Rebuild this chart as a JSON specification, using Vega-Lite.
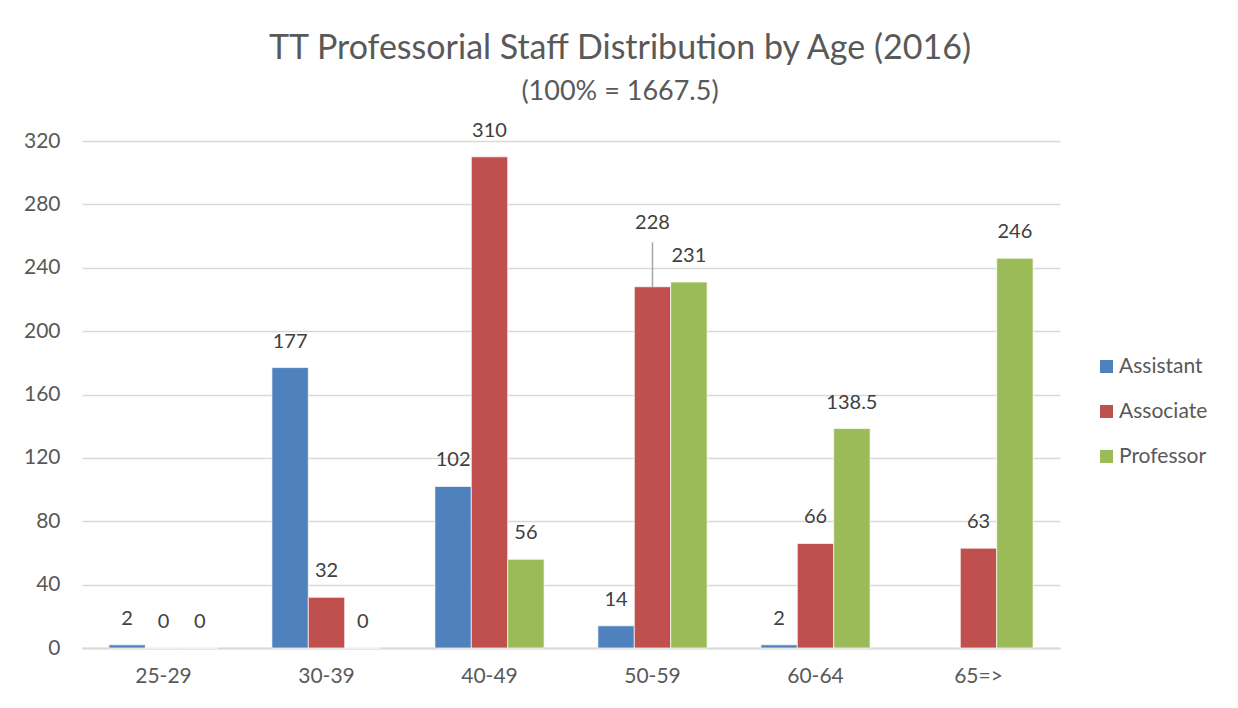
{
  "$schema": "https://vega.github.io/schema/vega-lite/v6.json",
  "width": 978,
  "height": 507,
  "autosize": {"type": "none"},
  "padding": {"left": 82, "top": 141, "right": 178, "bottom": 60},
  "background": "white",
  "config": {"view": {"stroke": null}},
  "title": {
    "text": "TT Professorial Staff Distribution by Age (2016)",
    "subtitle": "(100% = 1667.5)",
    "anchor": "middle",
    "frame": "group",
    "dx": 49,
    "offset": 16,
    "font": "Lato",
    "fontSize": 34,
    "fontWeight": "normal",
    "color": "#595959",
    "subtitleFont": "Lato",
    "subtitleFontSize": 27,
    "subtitleColor": "#595959",
    "subtitlePadding": 13
  },
  "data": {
    "values": [
      {"age": "25-29", "rank": "Assistant", "value": 2},
      {"age": "25-29", "rank": "Associate", "value": 0},
      {"age": "25-29", "rank": "Professor", "value": 0},
      {"age": "30-39", "rank": "Assistant", "value": 177},
      {"age": "30-39", "rank": "Associate", "value": 32},
      {"age": "30-39", "rank": "Professor", "value": 0},
      {"age": "40-49", "rank": "Assistant", "value": 102},
      {"age": "40-49", "rank": "Associate", "value": 310},
      {"age": "40-49", "rank": "Professor", "value": 56},
      {"age": "50-59", "rank": "Assistant", "value": 14},
      {"age": "50-59", "rank": "Associate", "value": 228},
      {"age": "50-59", "rank": "Professor", "value": 231},
      {"age": "60-64", "rank": "Assistant", "value": 2},
      {"age": "60-64", "rank": "Associate", "value": 66},
      {"age": "60-64", "rank": "Professor", "value": 138.5},
      {"age": "65=>", "rank": "Associate", "value": 63},
      {"age": "65=>", "rank": "Professor", "value": 246}
    ]
  },
  "encoding": {
    "x": {
      "field": "age",
      "type": "nominal",
      "sort": null,
      "scale": {"paddingInner": 0.33, "paddingOuter": 0.165},
      "axis": {
        "title": null,
        "labelAngle": 0,
        "labelFont": "Lato",
        "labelFontSize": 21,
        "labelColor": "#595959",
        "labelPadding": 17,
        "ticks": false,
        "domainColor": "#D9D9D9",
        "domainWidth": 2,
        "grid": false
      }
    },
    "xOffset": {
      "field": "rank",
      "type": "nominal",
      "scale": {"domain": ["Assistant", "Associate", "Professor"], "paddingInner": 0, "paddingOuter": 0}
    },
    "y": {
      "field": "value",
      "type": "quantitative",
      "scale": {"domain": [0, 320], "nice": false},
      "axis": {
        "title": null,
        "values": [0, 40, 80, 120, 160, 200, 240, 280, 320],
        "labelFont": "Lato",
        "labelFontSize": 21,
        "labelColor": "#595959",
        "labelPadding": 22,
        "ticks": false,
        "domain": false,
        "grid": true,
        "gridColor": "#D9D9D9",
        "gridWidth": 1.3
      }
    }
  },
  "layer": [
    {
      "mark": {"type": "bar", "stroke": "white", "strokeWidth": 0.7},
      "encoding": {
        "color": {
          "field": "rank",
          "type": "nominal",
          "scale": {"domain": ["Assistant", "Associate", "Professor"], "range": ["#4F81BD", "#C0504D", "#9BBB59"]},
          "legend": {
            "title": null,
            "orient": "none",
            "legendX": 1014,
            "legendY": 215,
            "symbolType": "square",
            "symbolSize": 169,
            "symbolStrokeWidth": 0,
            "labelFont": "Lato",
            "labelFontSize": 21,
            "labelColor": "#595959",
            "labelOffset": 2,
            "rowPadding": 23
          }
        }
      }
    },
    {
      "transform": [{"filter": "!(datum.age == '50-59' && datum.rank == 'Associate')"}],
      "mark": {"type": "text", "baseline": "middle", "dy": -26, "font": "Lato", "fontSize": 20, "color": "#404040"},
      "encoding": {"text": {"field": "value", "type": "nominal"}}
    },
    {
      "transform": [{"filter": "datum.age == '50-59' && datum.rank == 'Associate'"}],
      "mark": {"type": "text", "baseline": "middle", "dy": -64, "font": "Lato", "fontSize": 20, "color": "#404040"},
      "encoding": {"text": {"field": "value", "type": "nominal"}}
    },
    {
      "transform": [{"filter": "datum.age == '50-59' && datum.rank == 'Associate'"}],
      "mark": {"type": "rule", "color": "#A6A6A6", "strokeWidth": 1.5},
      "encoding": {"y2": {"datum": 256}}
    }
  ]
}
